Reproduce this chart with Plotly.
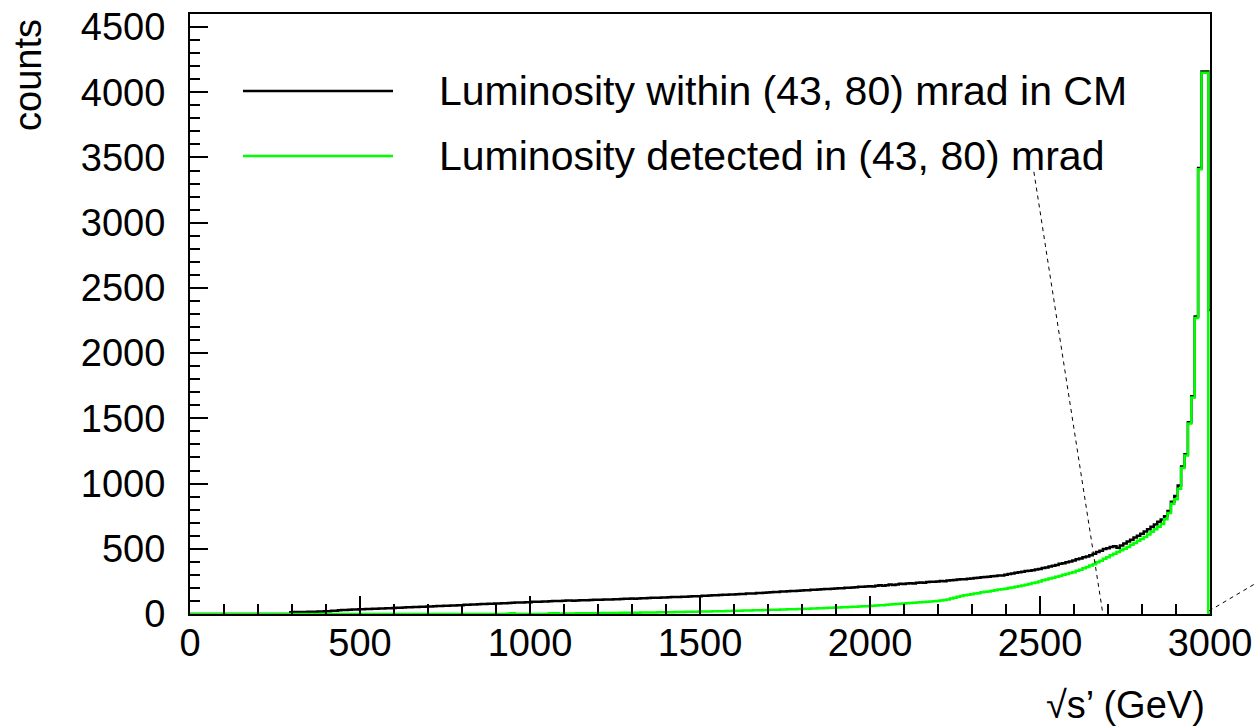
import numpy as np
import plotly.graph_objects as go

# ---------------- data ----------------
# histogram bins: 10 GeV wide, centred on 0, 10, ..., 3000 GeV
bin_centers = np.arange(0, 3001, 10)
bin_half_width = 5

# Luminosity within (43, 80) mrad in CM (black)
counts_cm = [
    0, 0, 0, 0, 0, 0, 0, 0, 0, 0,                     # 0-90
    0, 0, 0, 0, 0, 0, 0, 0, 0, 0,                     # 100-190
    0, 0, 0, 0, 0, 0, 0, 0, 0, 0,                     # 200-290
    14, 15, 15, 16, 16, 17, 18, 18, 19, 20,           # 300-390
    21, 22, 24, 25, 28, 30, 31, 32, 34, 35,           # 400-490
    36, 37, 38, 39, 40, 41, 42, 43, 44, 45,           # 500-590
    46, 47, 48, 50, 51, 52, 53, 54, 55, 56,           # 600-690
    57, 58, 60, 61, 62, 63, 64, 66, 66, 67,           # 700-790
    68, 70, 71, 72, 73, 75, 76, 77, 78, 79,           # 800-890
    80, 81, 83, 83, 85, 86, 88, 88, 89, 90,           # 900-990
    91, 93, 93, 94, 96, 96, 97, 99, 99, 100,          # 1000-1090
    101, 103, 103, 102, 104, 106, 106, 105, 107, 109, # 1100-1190
    109, 110, 112, 111, 112, 114, 114, 115, 117, 117, # 1200-1290
    118, 117, 119, 121, 121, 122, 124, 124, 125, 127, # 1300-1390
    127, 128, 130, 130, 131, 133, 133, 134, 136, 136, # 1400-1490
    137, 139, 140, 141, 143, 143, 145, 147, 147, 149, # 1500-1590
    150, 152, 153, 154, 157, 157, 158, 161, 161, 163, # 1600-1690
    165, 167, 168, 169, 172, 172, 174, 176, 177, 178, # 1700-1790
    180, 182, 183, 185, 186, 188, 189, 191, 192, 194, # 1800-1890
    195, 198, 198, 201, 202, 204, 205, 208, 208, 211, # 1900-1990
    212, 211, 216, 220, 217, 221, 226, 222, 227, 231, # 2000-2090
    230, 233, 235, 234, 239, 241, 240, 245, 247, 248, # 2100-2190
    250, 253, 252, 257, 259, 260, 264, 266, 267, 271, # 2200-2290
    273, 276, 277, 281, 283, 285, 290, 291, 295, 296, # 2300-2390
    300, 306, 310, 316, 321, 323, 329, 332, 335, 341, # 2400-2490
    345, 353, 357, 365, 370, 376, 385, 389, 397, 402, # 2500-2590
    410, 419, 425, 435, 441, 451, 461, 475, 485, 499, # 2600-2690
    505, 513, 520, 508, 526, 540, 556, 569, 586, 600, # 2700-2790
    615, 633, 649, 669, 687, 707, 724, 749, 790, 860, # 2800-2890
    905, 985, 1130, 1225, 1470, 1670, 2280, 3420, 4160, 4160,  # 2900-2990
    2330,                                             # 3000
]

# Luminosity detected in (43, 80) mrad (green)
counts_detected = [
    0, 0, 0, 0, 0, 0, 0, 0, 0, 0,                     # 0-90
    0, 0, 0, 0, 0, 0, 0, 0, 0, 0,                     # 100-190
    0, 0, 0, 0, 0, 0, 0, 0, 0, 0,                     # 200-290
    0, 0, 0, 0, 0, 0, 0, 0, 0, 0,                     # 300-390
    0, 0, 0, 0, 0, 0, 0, 0, 0, 0,                     # 400-490
    0, 0, 0, 0, 0, 0, 0, 0, 0, 0,                     # 500-590
    0, 0, 0, 0, 0, 0, 0, 0, 0, 0,                     # 600-690
    0, 0, 0, 0, 0, 0, 0, 0, 0, 0,                     # 700-790
    0, 0, 0, 0, 0, 0, 0, 0, 0, 0,                     # 800-890
    0, 0, 0, 0, 4, 5, 0, 0, 0, 0,                     # 900-990
    0, 0, 0, 0, 0, 0, 5, 6, 5, 0,                     # 1000-1090
    3, 3, 4, 4, 5, 5, 5, 6, 6, 6,                     # 1100-1190
    6, 7, 7, 7, 8, 8, 8, 9, 9, 9,                     # 1200-1290
    10, 10, 10, 11, 11, 11, 12, 12, 13, 13,           # 1300-1390
    13, 14, 14, 15, 16, 16, 17, 17, 18, 18,           # 1400-1490
    19, 19, 20, 20, 21, 21, 22, 22, 23, 23,           # 1500-1590
    24, 24, 25, 26, 26, 27, 28, 28, 29, 30,           # 1600-1690
    31, 32, 32, 33, 34, 35, 36, 36, 37, 38,           # 1700-1790
    39, 40, 41, 42, 43, 44, 45, 46, 47, 48,           # 1800-1890
    49, 50, 51, 52, 54, 55, 56, 58, 59, 60,           # 1900-1990
    62, 63, 65, 67, 68, 70, 72, 74, 76, 78,           # 2000-2090
    80, 82, 84, 86, 88, 90, 92, 94, 96, 98,           # 2100-2190
    100, 104, 108, 112, 118, 125, 132, 138, 144, 148, # 2200-2290
    152, 157, 160, 166, 170, 173, 179, 182, 187, 190, # 2300-2390
    194, 199, 203, 209, 213, 218, 225, 230, 237, 242, # 2400-2490
    250, 258, 264, 272, 278, 286, 292, 300, 306, 314, # 2500-2590
    320, 331, 340, 351, 360, 371, 382, 396, 408, 423, # 2600-2690
    436, 451, 462, 476, 488, 501, 514, 531, 545, 561, # 2700-2790
    575, 591, 610, 631, 650, 669, 690, 726, 775, 845, # 2800-2890
    880, 960, 1120, 1215, 1460, 1660, 2270, 3410, 4149, 4149,  # 2900-2990
    0,                                                # 3000
]

series_names = ["Luminosity within (43, 80) mrad in CM",
                "Luminosity detected in (43, 80) mrad"]
series_colors = ["#000000", "#00ff00"]

x_ticks = [0, 500, 1000, 1500, 2000, 2500, 3000]
y_ticks = [0, 500, 1000, 1500, 2000, 2500, 3000, 3500, 4000, 4500]

# dashed pointer lines present in the picture (data coordinates)
pointer_line_1 = dict(x=[2482, 2685], y=[3390, 0])

FONT = "Liberation Sans"

# ---------------- figure ----------------
fig = go.Figure()

edges = np.append(bin_centers - bin_half_width, bin_centers[-1] + bin_half_width)
for counts, name, color in zip([counts_cm, counts_detected], series_names, series_colors):
    fig.add_trace(go.Scatter(
        x=edges, y=list(counts) + [counts[-1]],
        mode="lines", line=dict(shape="hv", color=color, width=2.5),
        name=name, showlegend=False, hoverinfo="skip",
    ))

axis_common = dict(
    showline=True, linecolor="black", linewidth=2, mirror=True,
    ticks="inside", ticklen=18, tickwidth=2, tickcolor="black",
    showgrid=False, zeroline=False, automargin=False,
    tickfont=dict(family=FONT, size=38, color="black"),
)
fig.update_xaxes(range=[0, 3000], tickvals=x_ticks,
                 minor=dict(ticks="inside", ticklen=10, tickwidth=2,
                            tickcolor="black", dtick=100, tick0=0),
                 ticklabelstandoff=-6, **axis_common)
fig.update_yaxes(range=[0, 4600], tickvals=y_ticks,
                 minor=dict(ticks="inside", ticklen=10, tickwidth=2,
                            tickcolor="black", dtick=100, tick0=0),
                 ticklabelstandoff=15, **axis_common)

PL, PR, PT, PB = 190, 1210, 14, 614
W, H = PR - PL, PB - PT
def px(x): return (x - PL) / W
def py(y): return (PB - y) / H

shapes = []
annotations = []
# legend
for i, (name, color) in enumerate(zip(series_names, series_colors)):
    yy = [91, 156][i]
    shapes.append(dict(type="line", xref="paper", yref="paper",
                       x0=px(243), x1=px(393), y0=py(yy), y1=py(yy),
                       line=dict(color=color, width=2.5)))
    annotations.append(dict(text=name, xref="paper", yref="paper",
                            x=px(437), y=py([90, 155][i] + 1),
                            xanchor="left", yanchor="middle", showarrow=False,
                            font=dict(family=FONT, size=41, color="black")))

# dashed pointer lines
shapes.append(dict(type="line", xref="x", yref="y",
                   x0=pointer_line_1["x"][0], y0=pointer_line_1["y"][0],
                   x1=pointer_line_1["x"][1], y1=pointer_line_1["y"][1],
                   line=dict(color="black", width=1, dash="4px,4px")))
shapes.append(dict(type="line", xref="paper", yref="paper",
                   x0=px(1209), y0=py(611), x1=px(1258), y1=py(582),
                   line=dict(color="black", width=1, dash="4px,4px")))

# axis titles
annotations.append(dict(text="√s’ (GeV)", xref="paper", yref="paper",
                        x=px(1207), y=py(728), xanchor="right", yanchor="bottom",
                        showarrow=False, font=dict(family=FONT, size=38, color="black")))
annotations.append(dict(text="counts", xref="paper", yref="paper",
                        x=px(28), y=py(17), xanchor="center", yanchor="top",
                        textangle=-90, showarrow=False,
                        font=dict(family=FONT, size=38, color="black")))

fig.update_layout(
    width=1256, height=728,
    margin=dict(l=PL, r=1256 - PR, t=PT, b=728 - PB),
    paper_bgcolor="white", plot_bgcolor="white",
    showlegend=False, shapes=shapes, annotations=annotations,
)

fig.write_html("out.html")
